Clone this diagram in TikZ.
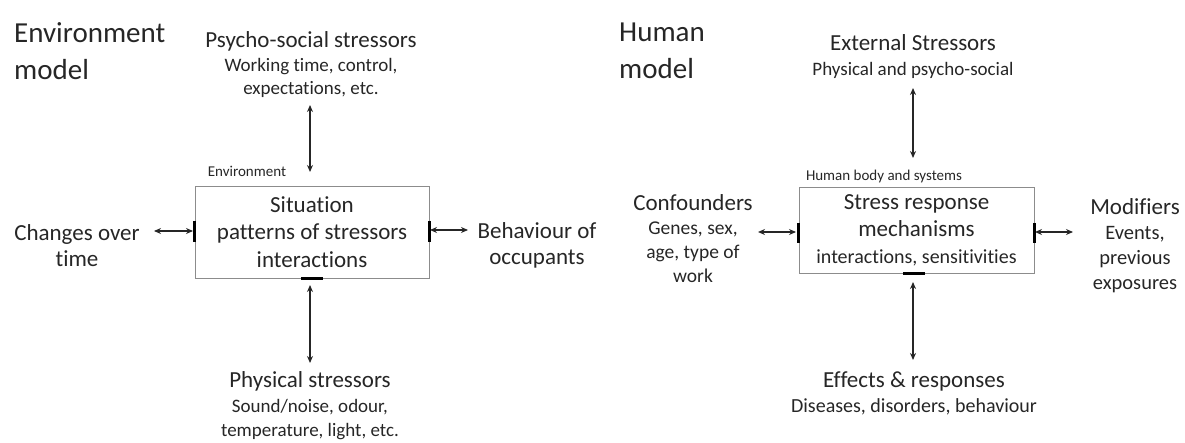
\documentclass[tikz,border=0pt]{standalone}
\usepackage{fontspec}
\setmainfont{Carlito}[Ligatures=NoCommon]
\usetikzlibrary{arrows.meta}
\definecolor{txt}{HTML}{262626}
\definecolor{boxc}{HTML}{8C8C8C}
\begin{document}
\begin{tikzpicture}[x=1pt,y=-1pt,
  every node/.style={text=txt, inner sep=0pt},
  title/.style={font=\fontsize{29}{37}\selectfont, align=left, anchor=west},
  head/.style={align=center, font=\fontsize{23}{26}\selectfont},
  small/.style={font=\fontsize{15}{18}\selectfont},
  box/.style={draw=boxc, line width=0.9pt, align=center, font=\fontsize{23}{27.5}\selectfont},
  dbl/.style={{Stealth[length=7pt,width=6pt]}-{Stealth[length=7pt,width=6pt]}, line width=1.3pt, draw=black!85},
  edgemark/.style={line width=3pt, draw=black}]
\useasboundingbox (0,0) rectangle (1185,443);
% titles
\node[title] (envT) at (14,51) {Environment\\model};
\node[title] (humT) at (619,51) {Human\\model};
% left model
\node[box, minimum width=234, minimum height=92] (sit) at (312,232) {Situation\\patterns of stressors\\interactions};
\node[small] (envL) at (247,171) {Environment};
\node[head] (psy) at (311,65) {Psycho-social stressors\\[-2pt]\fontsize{19}{22}\selectfont Working time, control,\\[-3pt]\fontsize{19}{22}\selectfont expectations, etc.};
\node[head] (chg) at (77,246) {Changes over\\time};
\node[head] (beh) at (537,245) {Behaviour of\\occupants};
\node[head] (phy) at (310,406) {Physical stressors\\[-1pt]\fontsize{19}{23}\selectfont Sound/noise, odour,\\[-2pt]\fontsize{19}{23}\selectfont temperature, light, etc.};
% right model
\node[box, minimum width=235, minimum height=86] (srm) at (916.5,230) {Stress response\\mechanisms\\[-1pt]\fontsize{20}{24}\selectfont interactions, sensitivities};
\node[small] (hbs) at (884,177) {Human body and systems};
\node[head] (ext) at (913,57) {External Stressors\\[-1pt]\fontsize{19}{22}\selectfont Physical and psycho-social};
\node[head] (con) at (693,239) {Confounders\\[-2pt]\fontsize{19.5}{23}\selectfont Genes, sex,\\[-2pt]\fontsize{19.5}{23}\selectfont age, type of\\[-2pt]\fontsize{19.5}{23}\selectfont work};
\node[head] (mod) at (1135,246) {Modifiers\\[-1pt]\fontsize{20.5}{24}\selectfont Events,\\[-1pt]\fontsize{20.5}{24}\selectfont previous\\[-1pt]\fontsize{20.5}{24}\selectfont exposures};
\node[head] (eff) at (914,393) {Effects \& responses\\[-1pt]\fontsize{20}{24}\selectfont Diseases, disorders, behaviour};
% arrow end points
\coordinate (psyE) at (310,105);
\coordinate (sitT) at (310,172);
\coordinate (sitB) at (310,285);
\coordinate (phyE) at (310,363);
\coordinate (chgE) at (154,231);
\coordinate (sitL) at (193,231);
\coordinate (sitR) at (430,230);
\coordinate (behE) at (468,230);
\coordinate (extE) at (913,88);
\coordinate (srmT) at (913,158);
\coordinate (srmB) at (913,282);
\coordinate (effE) at (913,360);
\coordinate (conE) at (758,232);
\coordinate (srmL) at (796,232);
\coordinate (srmR) at (1035,232);
\coordinate (modE) at (1073,232);
% connectors
\draw[dbl] (psyE) -- (sitT);
\draw[dbl] (sitB) -- (phyE);
\draw[dbl] (chgE) -- (sitL);
\draw[dbl] (sitR) -- (behE);
\draw[dbl] (extE) -- (srmT);
\draw[dbl] (srmB) -- (effE);
\draw[dbl] (conE) -- (srmL);
\draw[dbl] (srmR) -- (modE);
% edge marks
\draw[edgemark] (sit.west) ++(0,-11) -- ++(0,21);
\draw[edgemark] (sit.east) ++(0,-11) -- ++(0,21);
\draw[edgemark] (sit.south) ++(-11,0) -- ++(22,0);
\draw[edgemark] (srm.west) ++(0,-7) -- ++(0,20);
\draw[edgemark] (srm.east) ++(0,-7) -- ++(0,20);
\draw[edgemark] (srm.south) ++(-13.5,0) -- ++(22,0);
\end{tikzpicture}
\end{document}
